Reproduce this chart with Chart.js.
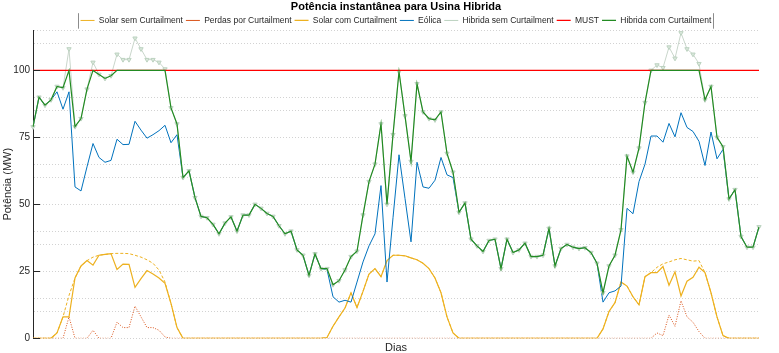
<!DOCTYPE html>
<html>
<head>
<meta charset="utf-8">
<script src="https://cdn.jsdelivr.net/npm/chart.js@4/dist/chart.umd.min.js"></script>
<style>
html,body{margin:0;padding:0;background:#fff;}
</style>
</head>
<body>
<canvas id="chart" width="779" height="353"></canvas>
<script>
// valores, passo de ~30 min
const hibCom = [78.9,90,87,89,94,93.5,100,79,82,93,
  100,98.5,97,98,100,100,100,100,100,100,
  100,100,100,86,80,60,62.5,52.5,45.5,45,
  42.5,39,43,45.3,40,46,46,50,48.5,46.6,
  45.5,42,39,40,33,31,23.5,31.5,26,26,
  20,21.5,25.5,30.5,32.5,46,58.5,65,80,50,
  76,99.5,83,66,95,84.5,82,81.5,84.5,69,
  62,47,50.5,37,34.5,32.4,36.5,37,26,37,
  32,33,35.5,30.5,30.5,31,41,27,33.5,35,
  34,33.5,33.8,32,28,17,27,31,40.5,68,
  62,71,88,100,100,100,100,100,100,100,
  100,100,89,94,75,71.5,52,55.5,38,34,
  34,41.6];
const hibSem = [78.9,90,87,89,94,93.5,108,79,82,93,
  103,98.5,97,98,106,104,104,112,108,104,
  104,103,100.5,86,80,60,62.5,52.5,45.5,45,
  42.5,39,43,45.3,40,46,46,50,48.5,46.6,
  45.5,42,39,40,33,31,23.5,31.5,26,26,
  20,21.5,25.5,30.5,32.5,46,58.5,65,80,50,
  76,99.5,83,66,95,84.5,82,81.5,84.5,69,
  62,47,50.5,37,34.5,32.4,36.5,37,26,37,
  32,33,35.5,30.5,30.5,31,41,27,33.5,35,
  34,33.5,33.8,32,28,17,27,31,40.5,68,
  62,71,88,100,102,101,108.7,104.5,114,108,
  106,102.5,89,94,75,71.5,52,55.5,38,34,
  34,41.6];
const solarSem = [0,0,0,0,2,8,16,22.5,27,29,
  30.3,31,31.3,31.6,31.7,31.7,31.6,31,30.3,29.3,
  28,25.5,21,13,4,0,0,0,0,0,
  0,0,0,0,0,0,0,0,0,0,
  0,0,0,0,0,0,0,0,0,0.3,
  4.5,8,11.3,17,11.5,17.5,24,26,23,29,
  31,31,30.8,30,29.3,28,26,22.5,17,8,
  2,0,0,0,0,0,0,0,0,0,
  0,0,0,0,0,0,0,0,0,0,
  0,0,0,0,0,3.5,10,13.3,21,19.5,
  15.5,12.5,23,24.5,26.5,27.8,28.5,29.3,29.8,29.3,
  28.8,29,24.5,17,8,1,0,0,0,0,
  0,0];
const perdas = [0,0,0,0,0,0,8,0,0,0,
  3,0,0,0,6,4,4,12,8,4,
  4,3,0.5,0,0,0,0,0,0,0,
  0,0,0,0,0,0,0,0,0,0,
  0,0,0,0,0,0,0,0,0,0,
  0,0,0,0,0,0,0,0,0,0,
  0,0,0,0,0,0,0,0,0,0,
  0,0,0,0,0,0,0,0,0,0,
  0,0,0,0,0,0,0,0,0,0,
  0,0,0,0,0,0,0,0,0,0,
  0,0,0,0,2,1,8.7,4.5,14,8,
  6,2.5,0,0,0,0,0,0,0,0,
  0,0];
const solarCom = [0,0,0,0,2,8,8,22.5,27,29,
  27.3,31,31.3,31.6,25.7,27.7,27.6,19,22.3,25.3,
  24,22.5,20.5,13,4,0,0,0,0,0,
  0,0,0,0,0,0,0,0,0,0,
  0,0,0,0,0,0,0,0,0,0.3,
  4.5,8,11.3,17,11.5,17.5,24,26,23,29,
  31,31,30.8,30,29.3,28,26,22.5,17,8,
  2,0,0,0,0,0,0,0,0,0,
  0,0,0,0,0,0,0,0,0,0,
  0,0,0,0,0,3.5,10,13.3,21,19.5,
  15.5,12.5,23,24.5,24.5,26.8,19.8,24.8,15.8,21.3,
  22.8,26.5,24.5,17,8,1,0,0,0,0,
  0,0];
const eolica = [78.9,90,87,89,92,85.5,92,56.5,55,64,
  72.7,67.5,65.7,66.4,74.3,72.3,72.4,81,77.7,74.7,
  76,77.5,79.5,73,76,60,62.5,52.5,45.5,45,
  42.5,39,43,45.3,40,46,46,50,48.5,46.6,
  45.5,42,39,40,33,31,23.5,31.5,26,25.7,
  15.5,13.5,14.2,13.5,21,28.5,34.5,39,57,21,
  45,68.5,52.2,36,65.7,56.5,56,59,67.5,61,
  60,47,50.5,37,34.5,32.4,36.5,37,26,37,
  32,33,35.5,30.5,30.5,31,41,27,33.5,35,
  34,33.5,33.8,32,28,13.5,17,17.7,19.5,48.5,
  46.5,58.5,65,75.5,75.5,73.2,80.2,75.2,84.2,78.7,
  77.2,73.5,64.5,77,67,70.5,52,55.5,38,34,
  34,41.6];
const MUST = 100;
const yTicks = [0,25,50,75,100];
const tempo = hibCom.map((_,i)=>(i*0.5).toFixed(1));

const FONT = "'Liberation Sans', Arial, sans-serif";
Chart.defaults.font.family = FONT;
Chart.defaults.color = '#262626';

// ticks para dentro, como no matlab
const ticksInside = {
  id:'ticksInside',
  afterDraw(chart){
    const s = chart.scales.y, ctx = chart.ctx;
    ctx.save();
    ctx.strokeStyle = '#262626'; ctx.lineWidth = 1;
    yTicks.forEach(v=>{
      const py = Math.round(s.getPixelForValue(v))+0.5;
      ctx.beginPath(); ctx.moveTo(s.right, py); ctx.lineTo(s.right+7, py); ctx.stroke();
    });
    ctx.restore();
  }
};

const legendFrame = {
  id:'legendFrame',
  afterDraw(chart){
    const hb = chart.legend.legendHitBoxes;
    if(!hb || !hb.length) return;
    const ctx = chart.ctx;
    const l = Math.round(Math.min(...hb.map(h=>h.left)))-2.5;
    const r = Math.round(Math.max(...hb.map(h=>h.left+h.width)))+2.5;
    const t = hb[0].top-3, b = hb[0].top+hb[0].height+4;
    ctx.save();
    ctx.strokeStyle = '#8c8c8c'; ctx.lineWidth = 1;
    ctx.beginPath();
    ctx.moveTo(l,t); ctx.lineTo(l,b);
    ctx.moveTo(r,t); ctx.lineTo(r,b);
    ctx.stroke();
    ctx.restore();
  }
};

new Chart(document.getElementById('chart').getContext('2d'),{
  type:'line',
  data:{
    labels:tempo,
    datasets:[
      {label:'Solar sem Curtailment',data:solarSem,borderColor:'#EDB120',borderWidth:1,borderDash:[3,2],pointRadius:0,order:7},
      {label:'Perdas por Curtailment',data:perdas,borderColor:'#D95319',borderWidth:1,borderDash:[1,1.5],pointRadius:0,order:6},
      {label:'Solar com Curtailment',data:solarCom,borderColor:'#EDB120',borderWidth:1.2,pointRadius:0,order:5},
      {label:'Eólica',data:eolica,borderColor:'#0072BD',borderWidth:1,pointRadius:0,order:4},
      {label:'Hibrida sem Curtailment',data:hibSem,borderColor:'#c9d6cb',borderWidth:1,
       pointStyle:'triangle',rotation:180,pointRadius:2.5,pointBorderWidth:1,
       pointBackgroundColor:'#dbe8dd',pointBorderColor:'#bcd2c0',order:3},
      {label:'MUST',data:tempo.map(()=>MUST),borderColor:'#FF0000',borderWidth:1.3,pointRadius:0,order:2},
      {label:'Hibrida com Curtailment',data:hibCom,borderColor:'#228b22',borderWidth:1.2,pointRadius:0,order:1}
    ]
  },
  options:{
    responsive:false,
    animation:false,
    layout:{padding:{left:0,right:20,top:0,bottom:0}},
    plugins:{
      title:{display:true,text:'Potência instantânea para Usina Hibrida',fullSize:false,
        font:{size:11,weight:'bold'},color:'#000',padding:{top:0,bottom:0}},
      legend:{
        position:'top',fullSize:false,maxHeight:17,
        labels:{
          usePointStyle:true,pointStyleWidth:14,boxHeight:8.5,padding:3,
          font:{size:8.5},color:'#262626',
          generateLabels(chart){
            const items = Chart.defaults.plugins.legend.labels.generateLabels(chart);
            items.forEach(it=>{it.pointStyle='line';it.rotation=0;});
            return items;
          },
          sort:(a,b)=>a.datasetIndex-b.datasetIndex
        }
      },
      tooltip:{enabled:false}
    },
    scales:{
      x:{
        ticks:{display:false},
        grid:{display:false},
        border:{display:false},
        title:{display:true,text:'Dias',font:{size:11,lineHeight:1},padding:{top:0,bottom:0},color:'#262626'},
        afterFit(s){ s.height = 14.7; }
      },
      y:{
        min:0,max:115,
        ticks:{stepSize:5,autoSkip:false,padding:3,font:{size:10},color:'#262626',
          callback:v=>yTicks.includes(v)?v:''},
        grid:{drawTicks:false,lineWidth:1,
          color:c=>{const v=c.tick?c.tick.value:0;return (v%25===5||v%25===20)?'rgba(0,0,0,0)':'#d2d2d2';}},
        border:{display:true,color:'#262626',width:1,dash:[1,2]},
        title:{display:true,text:'Potência (MW)',font:{size:11},padding:{top:1,bottom:0},color:'#262626'},
        afterFit(s){ s.width = 33; }
      }
    }
  },
  plugins:[ticksInside,legendFrame]
});
</script>
</body>
</html>
